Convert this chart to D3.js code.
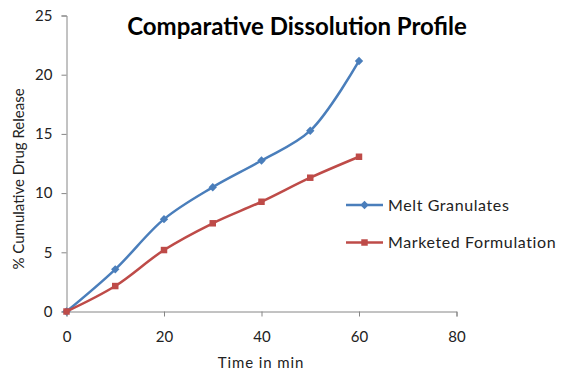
<!DOCTYPE html>
<html>
<head>
<meta charset="utf-8">
<script src="https://cdn.jsdelivr.net/npm/d3@7"></script>
<style>
  body { margin: 0; background: #fff; }
  svg { font-family: Lato, "Open Sans", sans-serif; }
</style>
</head>
<body>
<svg id="chart"></svg>
<script>
const times = [0, 10, 20, 30, 40, 50, 60];
const meltGranulates = [0, 3.56, 7.8, 10.5, 12.75, 15.27, 21.16];
const marketedFormulation = [0, 2.15, 5.19, 7.45, 9.27, 11.3, 13.07];
const xTicks = [0, 20, 40, 60, 80];
const yTicks = [0, 5, 10, 15, 20, 25];
const seriesNames = ["Melt Granulates", "Marketed Formulation"];

const width = 561, height = 370;
const margin = { top: 15.5, right: 105, bottom: 58.5, left: 66.5 };

const svg = d3.select("#chart")
    .attr("width", width)
    .attr("height", height);

const x = d3.scaleLinear()
    .domain([0, 80])
    .range([margin.left, width - margin.right + 0.5]);

const y = d3.scaleLinear()
    .domain([0, 25])
    .range([height - margin.bottom, margin.top]);

const axisColor = "#868686";

// axes
const xAxis = svg.append("g")
    .attr("transform", `translate(0,${y(0)})`)
    .call(d3.axisBottom(x).tickValues(xTicks).tickSize(5).tickPadding(15));

const yAxis = svg.append("g")
    .attr("transform", `translate(${x(0)},0)`)
    .call(d3.axisLeft(y).tickValues(yTicks).tickSize(5).tickPadding(9));

[xAxis, yAxis].forEach(g => {
    g.selectAll(".domain").attr("stroke", axisColor);
    g.selectAll(".tick line").attr("stroke", axisColor);
    g.selectAll(".tick text")
        .attr("fill", "#222")
        .style("font-size", "15px")
        .style("font-family", "Lato, sans-serif");
});

// series
const series = [
    { name: seriesNames[0], values: meltGranulates, color: "#4A7EBB", marker: d3.symbolDiamond2, size: 45 },
    { name: seriesNames[1], values: marketedFormulation, color: "#BE4B48", marker: d3.symbolSquare, size: 42 }
];

const line = d3.line()
    .x(d => x(d[0]))
    .y(d => y(d[1]))
    .curve(d3.curveCatmullRom.alpha(0.5));

series.forEach(s => {
    const pts = times.map((t, i) => [t, s.values[i]]);
    svg.append("path")
        .datum(pts)
        .attr("fill", "none")
        .attr("stroke", s.color)
        .attr("stroke-width", 2.5)
        .attr("d", line);

    svg.append("g")
        .selectAll("path")
        .data(pts)
        .join("path")
        .attr("transform", d => `translate(${x(d[0])},${y(d[1])})`)
        .attr("d", d3.symbol().type(s.marker).size(s.size))
        .attr("fill", s.color);
});

// legend
const legend = svg.append("g").attr("transform", "translate(346,205)");
series.forEach((s, i) => {
    const g = legend.append("g").attr("transform", `translate(0,${i * 37.5})`);
    g.append("line")
        .attr("x1", 0).attr("x2", 37)
        .attr("stroke", s.color)
        .attr("stroke-width", 2.5);
    g.append("path")
        .attr("transform", "translate(18.5,0)")
        .attr("d", d3.symbol().type(s.marker).size(s.size))
        .attr("fill", s.color);
    g.append("text")
        .attr("x", 42)
        .attr("dy", "0.35em")
        .attr("fill", "#222")
        .style("font-size", "16px")
        .style("letter-spacing", "0.6px")
        .text(s.name);
});

// title
svg.append("text")
    .attr("x", 297)
    .attr("y", 35)
    .attr("text-anchor", "middle")
    .style("font-size", "24px")
    .style("font-weight", "bold")
    .attr("fill", "#000")
    .text("Comparative Dissolution Profile");

// axis titles
svg.append("text")
    .attr("x", 261)
    .attr("y", 368)
    .attr("text-anchor", "middle")
    .style("font-size", "15px")
    .style("letter-spacing", "0.9px")
    .attr("fill", "#222")
    .text("Time in min");

svg.append("text")
    .attr("transform", "translate(24,179) rotate(-90)")
    .attr("text-anchor", "middle")
    .style("font-size", "15px")
    .attr("fill", "#222")
    .text("% Cumulative Drug Release");
</script>
</body>
</html>
